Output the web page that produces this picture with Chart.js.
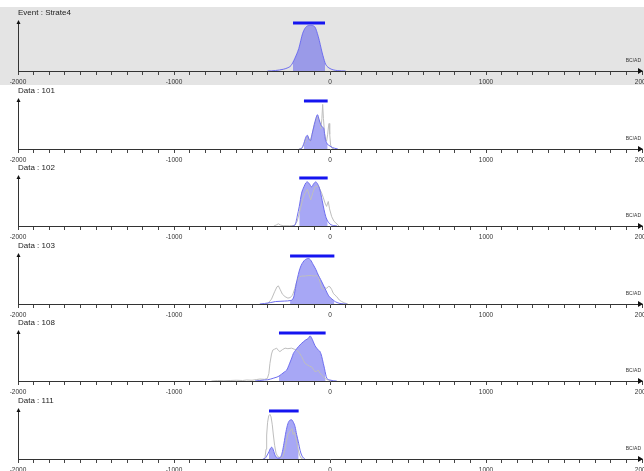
<!DOCTYPE html>
<html>
<head>
<meta charset="utf-8">
<script src="https://cdn.jsdelivr.net/npm/chart.js@4.4.0/dist/chart.umd.min.js"></script>
<style>
  body { margin: 0; background: #fff; width: 644px; height: 471px; overflow: hidden; position: relative; }
  .panel { position: absolute; left: 0; width: 644px; height: 78px; }
</style>
</head>
<body>
<script>
// panel titles and HPD intervals (years BC/AD)
const panelTitles = ['Event : Strate4', 'Data : 101', 'Data : 102', 'Data : 103', 'Data : 108', 'Data : 111'];
const hpdStart = [-237, -167, -197, -256, -327, -391];
const hpdEnd = [-32, -15, -15, 28, -28, -201];
const axisTicks = [-2000, -1000, 0, 1000, 2000];

// posterior densities (blue)
const strate4Years = [-400, -375, -350, -325, -300, -275, -250, -237, -225, -200, -175, -150, -125, -100, -75, -50, -32, -25, 0, 25, 50, 75, 100];
const strate4Post = [0, 0.003, 0.01, 0.02, 0.035, 0.06, 0.11, 0.18, 0.26, 0.46, 0.77, 0.91, 0.93, 0.91, 0.7, 0.37, 0.17, 0.12, 0.05, 0.02, 0.008, 0.002, 0];

const d101Years = [-195, -182, -167, -155, -145, -135, -125, -115, -100, -90, -80, -70, -60, -50, -40, -30, -20, -15, -10, 0, 15, 30, 50];
const d101Post = [0, 0.01, 0.12, 0.24, 0.28, 0.2, 0.17, 0.3, 0.5, 0.63, 0.7, 0.6, 0.5, 0.45, 0.42, 0.2, 0.12, 0.09, 0.08, 0.06, 0.03, 0.015, 0];

const d102Years = [-240, -224, -210, -197, -182, -167, -155, -145, -132, -118, -105, -92, -78, -64, -50, -38, -28, -15, 0, 15, 32, 45];
const d102Post = [0, 0.02, 0.2, 0.4, 0.67, 0.8, 0.88, 0.9, 0.86, 0.8, 0.86, 0.9, 0.85, 0.73, 0.52, 0.33, 0.2, 0.1, 0.04, 0.015, 0.005, 0];

const d103Years = [-450, -420, -400, -380, -350, -320, -290, -256, -235, -214, -192, -167, -150, -139, -125, -107, -90, -75, -60, -43, -25, -11, 5, 21, 28, 45, 64, 85, 107];
const d103Post = [0, 0.01, 0.02, 0.03, 0.05, 0.055, 0.06, 0.07, 0.12, 0.45, 0.73, 0.88, 0.92, 0.93, 0.9, 0.8, 0.7, 0.59, 0.5, 0.39, 0.27, 0.18, 0.12, 0.08, 0.06, 0.03, 0.01, 0.003, 0];

const d108Years = [-480, -450, -420, -400, -380, -360, -340, -327, -310, -290, -278, -260, -245, -235, -220, -203, -185, -171, -155, -139, -128, -118, -107, -96, -85, -75, -64, -53, -43, -35, -28, -21, -10, 0, 20, 43];
const d108Post = [0, 0.01, 0.02, 0.025, 0.04, 0.06, 0.08, 0.1, 0.14, 0.19, 0.22, 0.35, 0.47, 0.56, 0.63, 0.7, 0.76, 0.8, 0.84, 0.87, 0.92, 0.88, 0.8, 0.72, 0.67, 0.63, 0.6, 0.5, 0.36, 0.25, 0.14, 0.06, 0.03, 0.02, 0.005, 0];

const d111Years = [-430, -417, -406, -391, -383, -374, -365, -355, -345, -335, -325, -315, -305, -295, -282, -270, -258, -246, -235, -224, -214, -203, -201, -192, -182, -170, -160];
const d111Post = [0, 0.01, 0.06, 0.15, 0.21, 0.24, 0.2, 0.1, 0.04, 0.02, 0.02, 0.05, 0.15, 0.32, 0.56, 0.72, 0.79, 0.8, 0.75, 0.66, 0.5, 0.35, 0.32, 0.18, 0.08, 0.02, 0];

// calibrated dates (grey)
const d101LikYears = [-200, -180, -165, -150, -140, -128, -115, -100, -88, -78, -68, -58, -52, -47, -42, -35, -28, -22, -15, -10, -6, -2, 4, 12, 25];
const d101Lik = [0, 0.02, 0.1, 0.22, 0.25, 0.15, 0.3, 0.52, 0.6, 0.66, 0.58, 0.42, 0.62, 0.91, 0.62, 0.32, 0.2, 0.16, 0.3, 0.45, 0.52, 0.3, 0.08, 0.02, 0];

const d102LikYears = [-360, -345, -331, -318, -300, -260, -230, -210, -190, -175, -160, -145, -135, -124, -110, -96, -75, -53, -40, -32, -22, -11, -3, 11, 25, 38, 58];
const d102Lik = [0, 0.02, 0.045, 0.02, 0.005, 0.005, 0.01, 0.1, 0.35, 0.55, 0.67, 0.75, 0.65, 0.53, 0.68, 0.8, 0.82, 0.67, 0.55, 0.47, 0.4, 0.5, 0.35, 0.19, 0.1, 0.06, 0];

const d103LikYears = [-410, -395, -375, -355, -340, -331, -320, -305, -288, -270, -256, -240, -225, -214, -200, -192, -180, -160, -140, -120, -100, -85, -75, -64, -53, -40, -30, -21, -10, 0, 10, 21, 32, 43, 60, 75, 95, 115];
const d103Lik = [0, 0.02, 0.1, 0.25, 0.35, 0.37, 0.3, 0.2, 0.15, 0.12, 0.13, 0.18, 0.32, 0.45, 0.53, 0.56, 0.57, 0.57, 0.58, 0.58, 0.57, 0.58, 0.55, 0.45, 0.32, 0.3, 0.33, 0.32, 0.36, 0.35, 0.3, 0.22, 0.18, 0.15, 0.08, 0.05, 0.02, 0];

const d108LikYears = [-760, -720, -680, -640, -600, -560, -534, -500, -470, -449, -420, -402, -392, -385, -375, -367, -355, -342, -330, -321, -305, -288, -270, -246, -230, -214, -198, -182, -170, -160, -145, -130, -118, -107, -96, -85, -75, -64, -53, -43, -30, -20, -11, 0, 10];
const d108Lik = [0, 0.01, 0.005, 0.01, 0.015, 0.01, 0.02, 0.015, 0.03, 0.04, 0.035, 0.05, 0.15, 0.36, 0.55, 0.63, 0.65, 0.67, 0.62, 0.6, 0.64, 0.67, 0.66, 0.67, 0.65, 0.63, 0.58, 0.5, 0.42, 0.36, 0.33, 0.3, 0.29, 0.24, 0.19, 0.2, 0.22, 0.16, 0.12, 0.09, 0.05, 0.03, 0.02, 0.005, 0];

const d111LikYears = [-425, -417, -410, -406, -400, -393, -385, -378, -370, -363, -355, -346, -335, -321, -310, -300, -290, -280, -270, -260, -250, -243, -236, -228, -220, -212, -205, -195, -185, -175];
const d111Lik = [0, 0.02, 0.2, 0.49, 0.75, 0.88, 0.91, 0.86, 0.7, 0.49, 0.28, 0.12, 0.05, 0.03, 0.03, 0.06, 0.18, 0.35, 0.5, 0.55, 0.6, 0.62, 0.5, 0.55, 0.45, 0.33, 0.2, 0.08, 0.02, 0];

const postYears = [strate4Years, d101Years, d102Years, d103Years, d108Years, d111Years];
const postValues = [strate4Post, d101Post, d102Post, d103Post, d108Post, d111Post];
const likYears = [null, d101LikYears, d102LikYears, d103LikYears, d108LikYears, d111LikYears];
const likValues = [null, d101Lik, d102Lik, d103Lik, d108Lik, d111Lik];

const panelTops = [7, 85, 162, 240, 317, 395];
const BAR_LEVEL = 0.98;

// background, y axis arrow, x axis arrow and BC/AD label
const axisDecor = {
    id: 'axisDecor',
    beforeDraw(chart, args, opts) {
        const ctx = chart.ctx;
        ctx.save();
        ctx.fillStyle = opts.background || '#fff';
        ctx.fillRect(0, 0, chart.width, chart.height);
        ctx.restore();
    },
    afterDraw(chart) {
        const ctx = chart.ctx;
        const a = chart.chartArea;
        ctx.save();
        ctx.strokeStyle = '#333';
        ctx.fillStyle = '#111';
        ctx.lineWidth = 1;
        // y axis
        ctx.beginPath();
        ctx.moveTo(a.left + 0.5, a.bottom);
        ctx.lineTo(a.left + 0.5, a.top + 1);
        ctx.stroke();
        ctx.beginPath();
        ctx.moveTo(a.left + 0.5, a.top - 2);
        ctx.lineTo(a.left - 1.5, a.top + 2);
        ctx.lineTo(a.left + 2.5, a.top + 2);
        ctx.closePath();
        ctx.fill();
        // x arrow
        ctx.beginPath();
        ctx.moveTo(a.right + 1, a.bottom);
        ctx.lineTo(a.right - 4, a.bottom - 3);
        ctx.lineTo(a.right - 4, a.bottom + 3);
        ctx.closePath();
        ctx.fill();
        ctx.font = '5px "Liberation Sans", Arial, sans-serif';
        ctx.fillStyle = '#333';
        ctx.textAlign = 'right';
        ctx.textBaseline = 'middle';
        ctx.fillText('BC/AD', a.right - 1, a.bottom - 10);
        ctx.restore();
    }
};

function toPoints(xs, ys) {
    return xs.map((x, i) => ({ x: x, y: ys[i] }));
}

function makePanel(i) {
    const div = document.createElement('div');
    div.className = 'panel';
    div.style.top = panelTops[i] + 'px';
    const canvas = document.createElement('canvas');
    canvas.width = 644;
    canvas.height = 78;
    div.appendChild(canvas);
    document.body.appendChild(div);

    const post = toPoints(postYears[i], postValues[i]);
    const hpdPart = post.filter(p => p.x >= hpdStart[i] && p.x <= hpdEnd[i]);

    const datasets = [
        {
            label: 'HPD',
            data: [{ x: hpdStart[i], y: BAR_LEVEL }, { x: hpdEnd[i], y: BAR_LEVEL }],
            borderColor: '#1414f0',
            borderWidth: 3,
            pointRadius: 0,
            clip: false,
            order: 0
        },
        {
            label: 'posterior',
            data: post,
            borderColor: 'rgb(110,110,240)',
            borderWidth: 1,
            pointRadius: 0,
            tension: 0.3,
            cubicInterpolationMode: 'monotone',
            fill: false,
            order: 1
        },
        {
            label: 'hpd area',
            data: hpdPart,
            borderWidth: 0,
            pointRadius: 0,
            cubicInterpolationMode: 'monotone',
            backgroundColor: 'rgba(80,80,235,0.5)',
            fill: 'origin',
            order: 3
        }
    ];
    if (likYears[i]) {
        datasets.push({
            label: 'calibration',
            data: toPoints(likYears[i], likValues[i]),
            borderColor: 'rgb(190,190,190)',
            borderWidth: 1,
            pointRadius: 0,
            tension: 0,
            fill: false,
            order: 2
        });
    }

    new Chart(canvas, {
        type: 'line',
        data: { datasets: datasets },
        options: {
            responsive: false,
            animation: false,
            layout: { padding: { left: 18, right: 2, top: 0, bottom: 0 } },
            plugins: {
                legend: { display: false },
                tooltip: { enabled: false },
                axisDecor: { background: i === 0 ? '#e4e4e4' : '#ffffff' },
                title: {
                    display: true,
                    text: panelTitles[i],
                    align: 'start',
                    color: '#222',
                    font: { family: '"Liberation Sans", Arial, sans-serif', size: 8, weight: 'normal' },
                    padding: { top: 1, bottom: 4.4 }
                }
            },
            scales: {
                x: {
                    type: 'linear',
                    min: -2000,
                    max: 2000,
                    border: { display: true, color: '#333', width: 1 },
                    grid: { drawOnChartArea: false, drawTicks: true, tickLength: 4, color: '#444' },
                    ticks: {
                        stepSize: 100,
                        autoSkip: false,
                        maxRotation: 0,
                        padding: 3.5,
                        color: '#333',
                        font: { family: '"Liberation Sans", Arial, sans-serif', size: 6.5 },
                        callback: function(v) {
                            const r = Math.round(v);
                            return axisTicks.includes(r) ? String(r) : '';
                        }
                    },
                    afterFit: function(s) {
                        s.paddingLeft = 0;
                        s.paddingRight = 0;
                        s.height = 14;
                    }
                },
                y: { display: false, min: 0, max: 1 }
            }
        },
        plugins: [axisDecor]
    });
}

document.addEventListener('DOMContentLoaded', function() {
    for (let i = 0; i < panelTitles.length; i++) {
        makePanel(i);
    }
});
</script>
</body>
</html>
